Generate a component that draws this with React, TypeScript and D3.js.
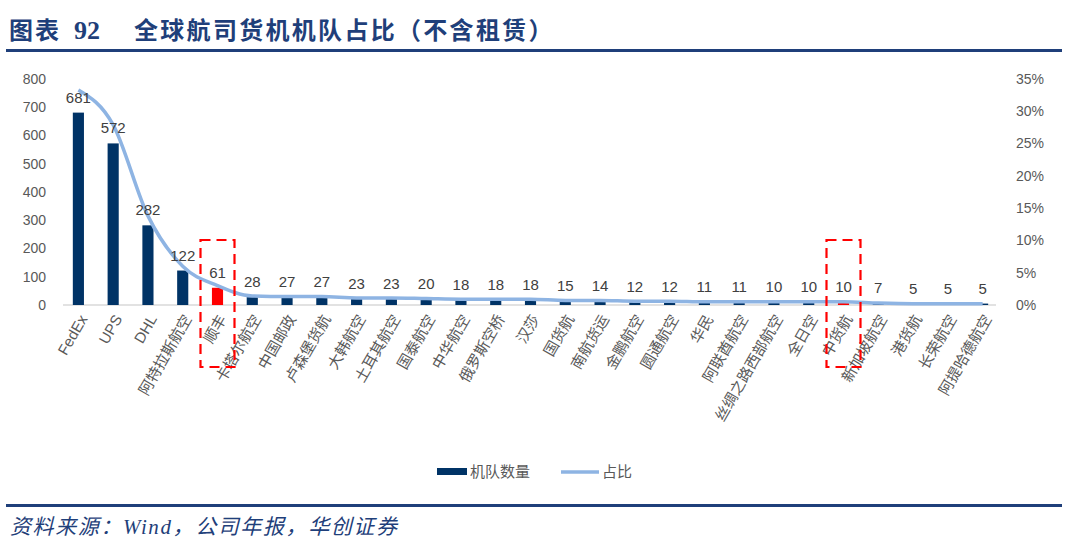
import React from 'react';
import * as d3 from 'd3';

const categories = ['FedEx', 'UPS', 'DHL', '阿特拉斯航空', '顺丰', '卡塔尔航空', '中国邮政', '卢森堡货航', '大韩航空', '土耳其航空', '国泰航空', '中华航空', '俄罗斯空桥', '汉莎', '国货航', '南航货运', '金鹏航空', '圆通航空', '华民', '阿联酋航空', '丝绸之路西部航空', '全日空', '中货航', '新加坡航空', '港货航', '长荣航空', '阿提哈德航空'];
const fleet = [681, 572, 282, 122, 61, 28, 27, 27, 23, 23, 20, 18, 18, 18, 15, 14, 12, 12, 11, 11, 10, 10, 10, 7, 5, 5, 5];
const share = [33.3, 27.9, 13.8, 6.0, 3.0, 1.4, 1.3, 1.3, 1.1, 1.1, 1.0, 0.9, 0.9, 0.9, 0.7, 0.7, 0.6, 0.6, 0.5, 0.5, 0.5, 0.5, 0.5, 0.3, 0.2, 0.2, 0.2];
const highlighted = ['顺丰', '中货航'];
const leftTicks = [0, 100, 200, 300, 400, 500, 600, 700, 800];
const rightTicks = [0, 5, 10, 15, 20, 25, 30, 35];

const NAVY = '#003366';
const LINE = '#8EB4E3';
const GREY = '#595959';
const TITLE_BLUE = '#1F3F7A';
const SANS = '"Liberation Sans", Arial, "Noto Sans CJK SC", sans-serif';
const SERIF = '"Liberation Serif", "Noto Sans CJK SC", serif';

export default function App() {
  const width = 1080;
  const height = 555;
  const top = 79;
  const bottom = 305;

  const x = d3.scaleBand<string>().domain(categories).range([61, 1000]).paddingInner(0.68).paddingOuter(0.34);
  const yL = d3.scaleLinear().domain([0, 800]).range([bottom, top]);
  const yR = d3.scaleLinear().domain([0, 35]).range([bottom, top]);
  const cx = (c: string) => (x(c) ?? 0) + x.bandwidth() / 2;

  const line = d3.line<number>()
    .x((_, i) => cx(categories[i]))
    .y(d => yR(d))
    .curve(d3.curveMonotoneX);

  return (
    <svg width={width} height={height} style={{ position: 'absolute', left: 0, top: 0 }}>
      <rect width={width} height={height} fill="#fff" />
      {/* title */}
      <text y={39} fontSize={24} fontWeight="bold" fill={TITLE_BLUE} fontFamily={SERIF}>
        <tspan x={9} letterSpacing={2}>图表</tspan>
        <tspan x={74} fontSize={26}>92</tspan>
        <tspan x={134} letterSpacing={2.3}>全球航司货机机队占比（不含租赁）</tspan>
      </text>
      <rect x={6} y={49} width={1056} height={3} fill={TITLE_BLUE} />

      {/* left axis labels */}
      {leftTicks.map(t => (
        <text key={'l' + t} x={46} y={yL(t)} dy="0.35em" textAnchor="end" fontSize={14} fill={GREY} fontFamily={SANS}>{t}</text>
      ))}
      {/* right axis labels */}
      {rightTicks.map(t => (
        <text key={'r' + t} x={1016} y={yR(t)} dy="0.35em" textAnchor="start" fontSize={14} fill={GREY} fontFamily={SANS}>{t}%</text>
      ))}

      {/* baseline */}
      <line x1={63} x2={996} y1={bottom} y2={bottom} stroke="#D9D9D9" strokeWidth={1.5} />

      {/* bars */}
      {categories.map((c, i) => (
        <rect key={c} x={x(c)} y={yL(fleet[i])} width={x.bandwidth()} height={bottom - yL(fleet[i])}
          fill={highlighted.includes(c) ? '#FF0000' : NAVY} />
      ))}

      {/* share line */}
      <path d={line(share) ?? ''} fill="none" stroke={LINE} strokeWidth={3.5} strokeLinejoin="round" />

      {/* data labels */}
      {categories.map((c, i) => (
        <text key={'v' + c} x={cx(c)} y={yL(fleet[i]) - 10} textAnchor="middle" fontSize={15} fill="#404040" fontFamily={SANS}>{fleet[i]}</text>
      ))}

      {/* category labels */}
      {categories.map(c => (
        <text key={'c' + c} transform={`translate(${cx(c) + 5},${316}) rotate(-60)`} textAnchor="end" dy="0.35em"
          fontSize={15} fill={GREY} fontFamily={SANS}>{c}</text>
      ))}

      {/* highlight boxes */}
      {highlighted.map(c => (
        <rect key={'h' + c} x={cx(c) - 17} y={240} width={34} height={127} fill="none"
          stroke="#FF0000" strokeWidth={2.2} strokeDasharray="10,6" />
      ))}

      {/* legend */}
      <rect x={437} y={468} width={30} height={7} fill={NAVY} />
      <text x={470} y={472} dy="0.35em" fontSize={15} fill={GREY} fontFamily={SANS}>机队数量</text>
      <line x1={561} x2={599} y1={472} y2={472} stroke={LINE} strokeWidth={3.5} />
      <text x={602} y={472} dy="0.35em" fontSize={15} fill={GREY} fontFamily={SANS}>占比</text>

      {/* footer */}
      <rect x={6} y={504} width={1056} height={3} fill={TITLE_BLUE} />
      <text x={10} y={534} fontSize={21} fontStyle="italic" fill={TITLE_BLUE} letterSpacing={1.6}
        fontFamily={SERIF}>资料来源：Wind，公司年报，华创证券</text>
    </svg>
  );
}
